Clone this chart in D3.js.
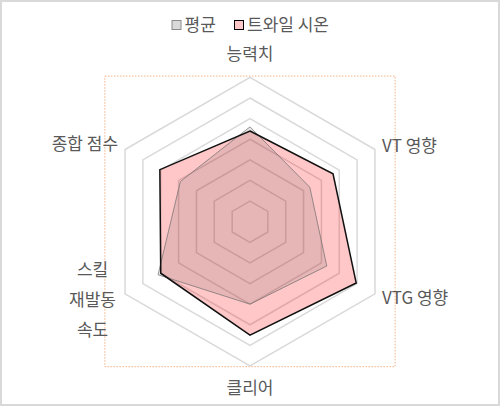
<!DOCTYPE html>
<html><head><meta charset="utf-8">
<script src="https://cdn.jsdelivr.net/npm/d3@7"></script>
<style>html,body{margin:0;padding:0;background:#fff;}svg{display:block;}</style>
</head><body>
<svg id="chart" width="500" height="406"></svg>
<script>
const categories = ["능력치", "VT 영향", "VTG 영향", "클리어", "스킬\n재발동\n속도", "종합 점수"];
const seriesNames = ["평균", "트와일 시온"];
const averageValues = [4.6, 3.35, 4.3, 4.0, 5.15, 3.9];
const twileValues = [4.4, 4.65, 5.95, 5.5, 5.0, 5.05];
const ringTicks = [1, 2, 3, 4, 5, 6, 7];

const W = 500, H = 406;
const cx = 250, cy = 221.7, R = 144.3;
const FONT = "'Noto Sans CJK KR','Noto Sans',sans-serif";
const TXT = "#595959";
const FS = 17;

const svg = d3.select("#chart");
svg.append("rect").attr("x", 1).attr("y", 1).attr("width", W - 2).attr("height", H - 2)
  .attr("fill", "#fff").attr("stroke", "#d9d9d9").attr("stroke-width", 2);

const r = d3.scaleLinear().domain([0, d3.max(ringTicks)]).range([0, R]);
const step = 2 * Math.PI / categories.length;
const radial = d3.lineRadial().angle((d, i) => i * step).radius(d => r(d)).curve(d3.curveLinearClosed);

// plot area (dotted)
svg.append("rect").attr("x", cx - R - 0.8).attr("y", cy - R - 1.3)
  .attr("width", 2 * R + 1.6).attr("height", 2 * R + 2)
  .attr("fill", "none").attr("stroke", "#f4b183").attr("stroke-width", 1).attr("stroke-dasharray", "1.5,1.5");

const g = svg.append("g").attr("transform", `translate(${cx},${cy})`);

// rings
g.selectAll("path.ring").data(ringTicks).join("path").attr("class", "ring")
  .attr("d", t => radial(categories.map(() => t)))
  .attr("fill", "none").attr("stroke", "#d9d9d9").attr("stroke-width", 1.5);

// series
g.append("path").attr("d", radial(twileValues))
  .attr("fill", "rgba(255,0,0,0.22)").attr("stroke", "none");
g.append("path").attr("d", radial(averageValues))
  .attr("fill", "rgba(52,52,52,0.125)").attr("stroke", "rgba(110,110,110,0.7)").attr("stroke-width", 1);
g.append("path").attr("d", radial(twileValues))
  .attr("fill", "none").attr("stroke", "#111").attr("stroke-width", 1.5).attr("stroke-linejoin", "miter");

// category labels
const lab = svg.append("g").attr("font-family", FONT).attr("font-size", FS).attr("fill", TXT);
categories.forEach((c, i) => {
  const a = i * step;
  const vx = cx + r(7) * Math.sin(a), vy = cy - r(7) * Math.cos(a);
  let x, y, anchor;
  if (i === 0) { x = vx; y = vy - 24; anchor = "middle"; }
  else if (i === 3) { x = vx; y = vy + 22; anchor = "middle"; }
  else if (i === 1 || i === 2) { x = vx + 7; y = vy - 3.5; anchor = "start"; if (i === 2) y = vy + 4.5; }
  else if (i === 5) { x = vx - 7; y = vy - 6; anchor = "end"; }
  else { x = vx - 32.5; y = vy + 6; anchor = "middle"; }
  const lines = c.split("\n");
  const lh = 30;
  const t = lab.append("text").attr("text-anchor", anchor).attr("x", x)
    .attr("y", y - (lines.length - 1) * lh / 2);
  lines.forEach((l, k) => {
    t.append("tspan").attr("x", x).attr("dy", k === 0 ? "0.36em" : lh).text(l);
  });
});

// legend
const leg = svg.append("g").attr("font-family", FONT).attr("font-size", FS).attr("fill", TXT);
const legendItems = [
  { name: seriesNames[0], x: 172, fill: "#d9d9d9", stroke: "#8c8c8c" },
  { name: seriesNames[1], x: 234.5, fill: "#ffc7c7", stroke: "#000" }
];
legendItems.forEach(it => {
  leg.append("rect").attr("x", it.x).attr("y", 20.5).attr("width", 9).attr("height", 9)
    .attr("fill", it.fill).attr("stroke", it.stroke).attr("stroke-width", 1);
  leg.append("text").attr("x", it.x + 12.5).attr("y", 25).attr("dy", "0.36em").text(it.name);
});
</script>
</body></html>
